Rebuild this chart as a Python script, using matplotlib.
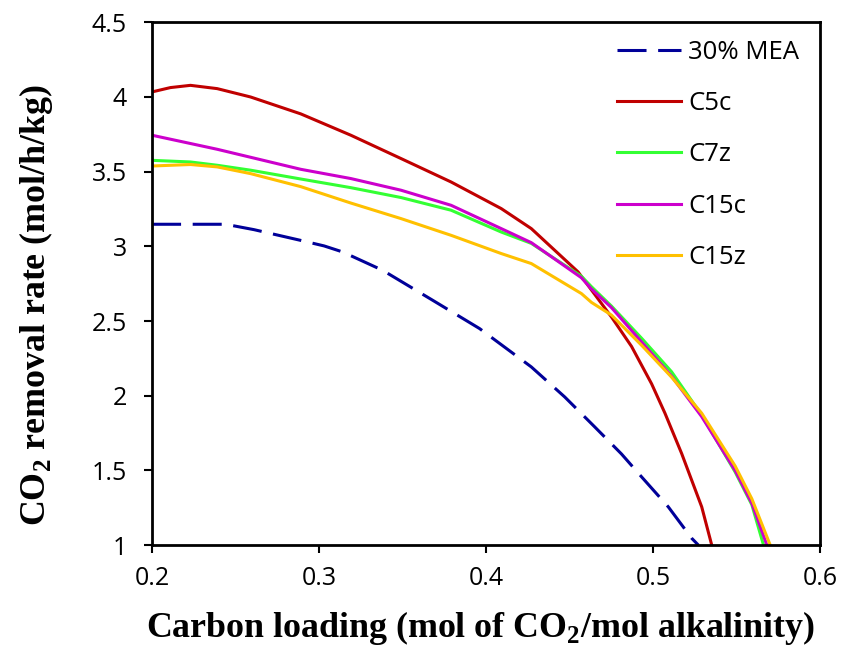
import matplotlib
matplotlib.use("Agg")
import matplotlib.pyplot as plt

# CO2 removal rate vs carbon loading for each solvent
mea_x = [0.200, 0.244, 0.261, 0.289, 0.303, 0.314, 0.338, 0.368, 0.396, 0.427, 0.447, 0.465, 0.481, 0.493, 0.509, 0.523, 0.527]
mea_y = [3.148, 3.148, 3.112, 3.040, 3.003, 2.963, 2.840, 2.639, 2.450, 2.193, 1.992, 1.791, 1.610, 1.457, 1.256, 1.046, 1.000]

c5c_x = [0.200, 0.211, 0.223, 0.239, 0.259, 0.289, 0.319, 0.349, 0.379, 0.409, 0.427, 0.455, 0.475, 0.487, 0.499, 0.507, 0.517, 0.529, 0.535]
c5c_y = [4.034, 4.063, 4.078, 4.056, 4.000, 3.887, 3.744, 3.588, 3.431, 3.253, 3.119, 2.829, 2.527, 2.330, 2.080, 1.883, 1.613, 1.256, 1.000]

c7z_x = [0.200, 0.223, 0.239, 0.259, 0.289, 0.319, 0.349, 0.379, 0.409, 0.427, 0.457, 0.463, 0.475, 0.493, 0.511, 0.529, 0.549, 0.559, 0.566]
c7z_y = [3.576, 3.565, 3.543, 3.510, 3.451, 3.393, 3.327, 3.242, 3.096, 3.020, 2.800, 2.730, 2.600, 2.385, 2.160, 1.870, 1.490, 1.270, 1.000]

c15c_x = [0.200, 0.239, 0.289, 0.319, 0.349, 0.379, 0.409, 0.427, 0.457, 0.463, 0.475, 0.493, 0.511, 0.529, 0.549, 0.559, 0.568]
c15c_y = [3.744, 3.650, 3.516, 3.454, 3.376, 3.275, 3.119, 3.025, 2.790, 2.715, 2.590, 2.360, 2.130, 1.860, 1.500, 1.280, 1.000]

c15z_x = [0.200, 0.223, 0.239, 0.259, 0.289, 0.319, 0.349, 0.379, 0.409, 0.427, 0.457, 0.463, 0.475, 0.493, 0.511, 0.529, 0.549, 0.559, 0.570]
c15z_y = [3.538, 3.548, 3.532, 3.487, 3.400, 3.290, 3.186, 3.074, 2.952, 2.885, 2.684, 2.625, 2.540, 2.338, 2.124, 1.883, 1.530, 1.310, 1.000]

x_ticks = [0.2, 0.3, 0.4, 0.5, 0.6]
y_ticks = [1, 1.5, 2, 2.5, 3, 3.5, 4, 4.5]

plt.rcParams['mathtext.fontset'] = 'custom'
plt.rcParams['mathtext.rm'] = 'Liberation Serif:bold'
plt.rcParams['mathtext.bf'] = 'Liberation Serif:bold'

fig = plt.figure(figsize=(8.59, 6.56), dpi=100)
ax = fig.add_axes([0.177, 0.169, 0.778, 0.797])

lw = 2.2
ax.plot(mea_x, mea_y, color='#000099', lw=lw, dashes=(9.5, 3.8), label='30% MEA')
ax.plot(c5c_x, c5c_y, color='#C00000', lw=lw, label='C5c')
ax.plot(c7z_x, c7z_y, color='#33FF33', lw=lw, label='C7z')
ax.plot(c15c_x, c15c_y, color='#CC00CC', lw=lw, label='C15c')
ax.plot(c15z_x, c15z_y, color='#FFC000', lw=lw, label='C15z')

ax.set_xlim(0.2, 0.6)
ax.set_ylim(1, 4.5)
ax.set_xticks(x_ticks)
ax.set_yticks(y_ticks)
ax.set_xticklabels([f'{v:g}' for v in x_ticks])
ax.set_yticklabels([f'{v:g}' for v in y_ticks])
ax.tick_params(direction='out', length=6, width=1.5, labelsize=18)
ax.tick_params(axis='x', pad=9)
ax.tick_params(axis='y', pad=12)
for lab in ax.get_xticklabels() + ax.get_yticklabels():
    lab.set_family('Open Sans')
for sp in ax.spines.values():
    sp.set_linewidth(2)

ax.set_xlabel(r'Carbon loading (mol of CO$_2$/mol alkalinity)',
              family='Liberation Serif', weight='bold', fontsize=25.8)
ax.set_ylabel(r'CO$_2$ removal rate (mol/h/kg)',
              family='Liberation Serif', weight='bold', fontsize=25.8)
ax.xaxis.set_label_coords(0.492, -0.123)
ax.yaxis.set_label_coords(-0.145, 0.46)

leg = ax.legend(loc='upper left', bbox_to_anchor=(0.695, 0.967), frameon=False,
                prop={'family': 'Open Sans', 'size': 18.5}, handlelength=2.5,
                handletextpad=0.3, labelspacing=1.03, borderpad=0, borderaxespad=0)

fig.savefig('out.png', dpi=100)
